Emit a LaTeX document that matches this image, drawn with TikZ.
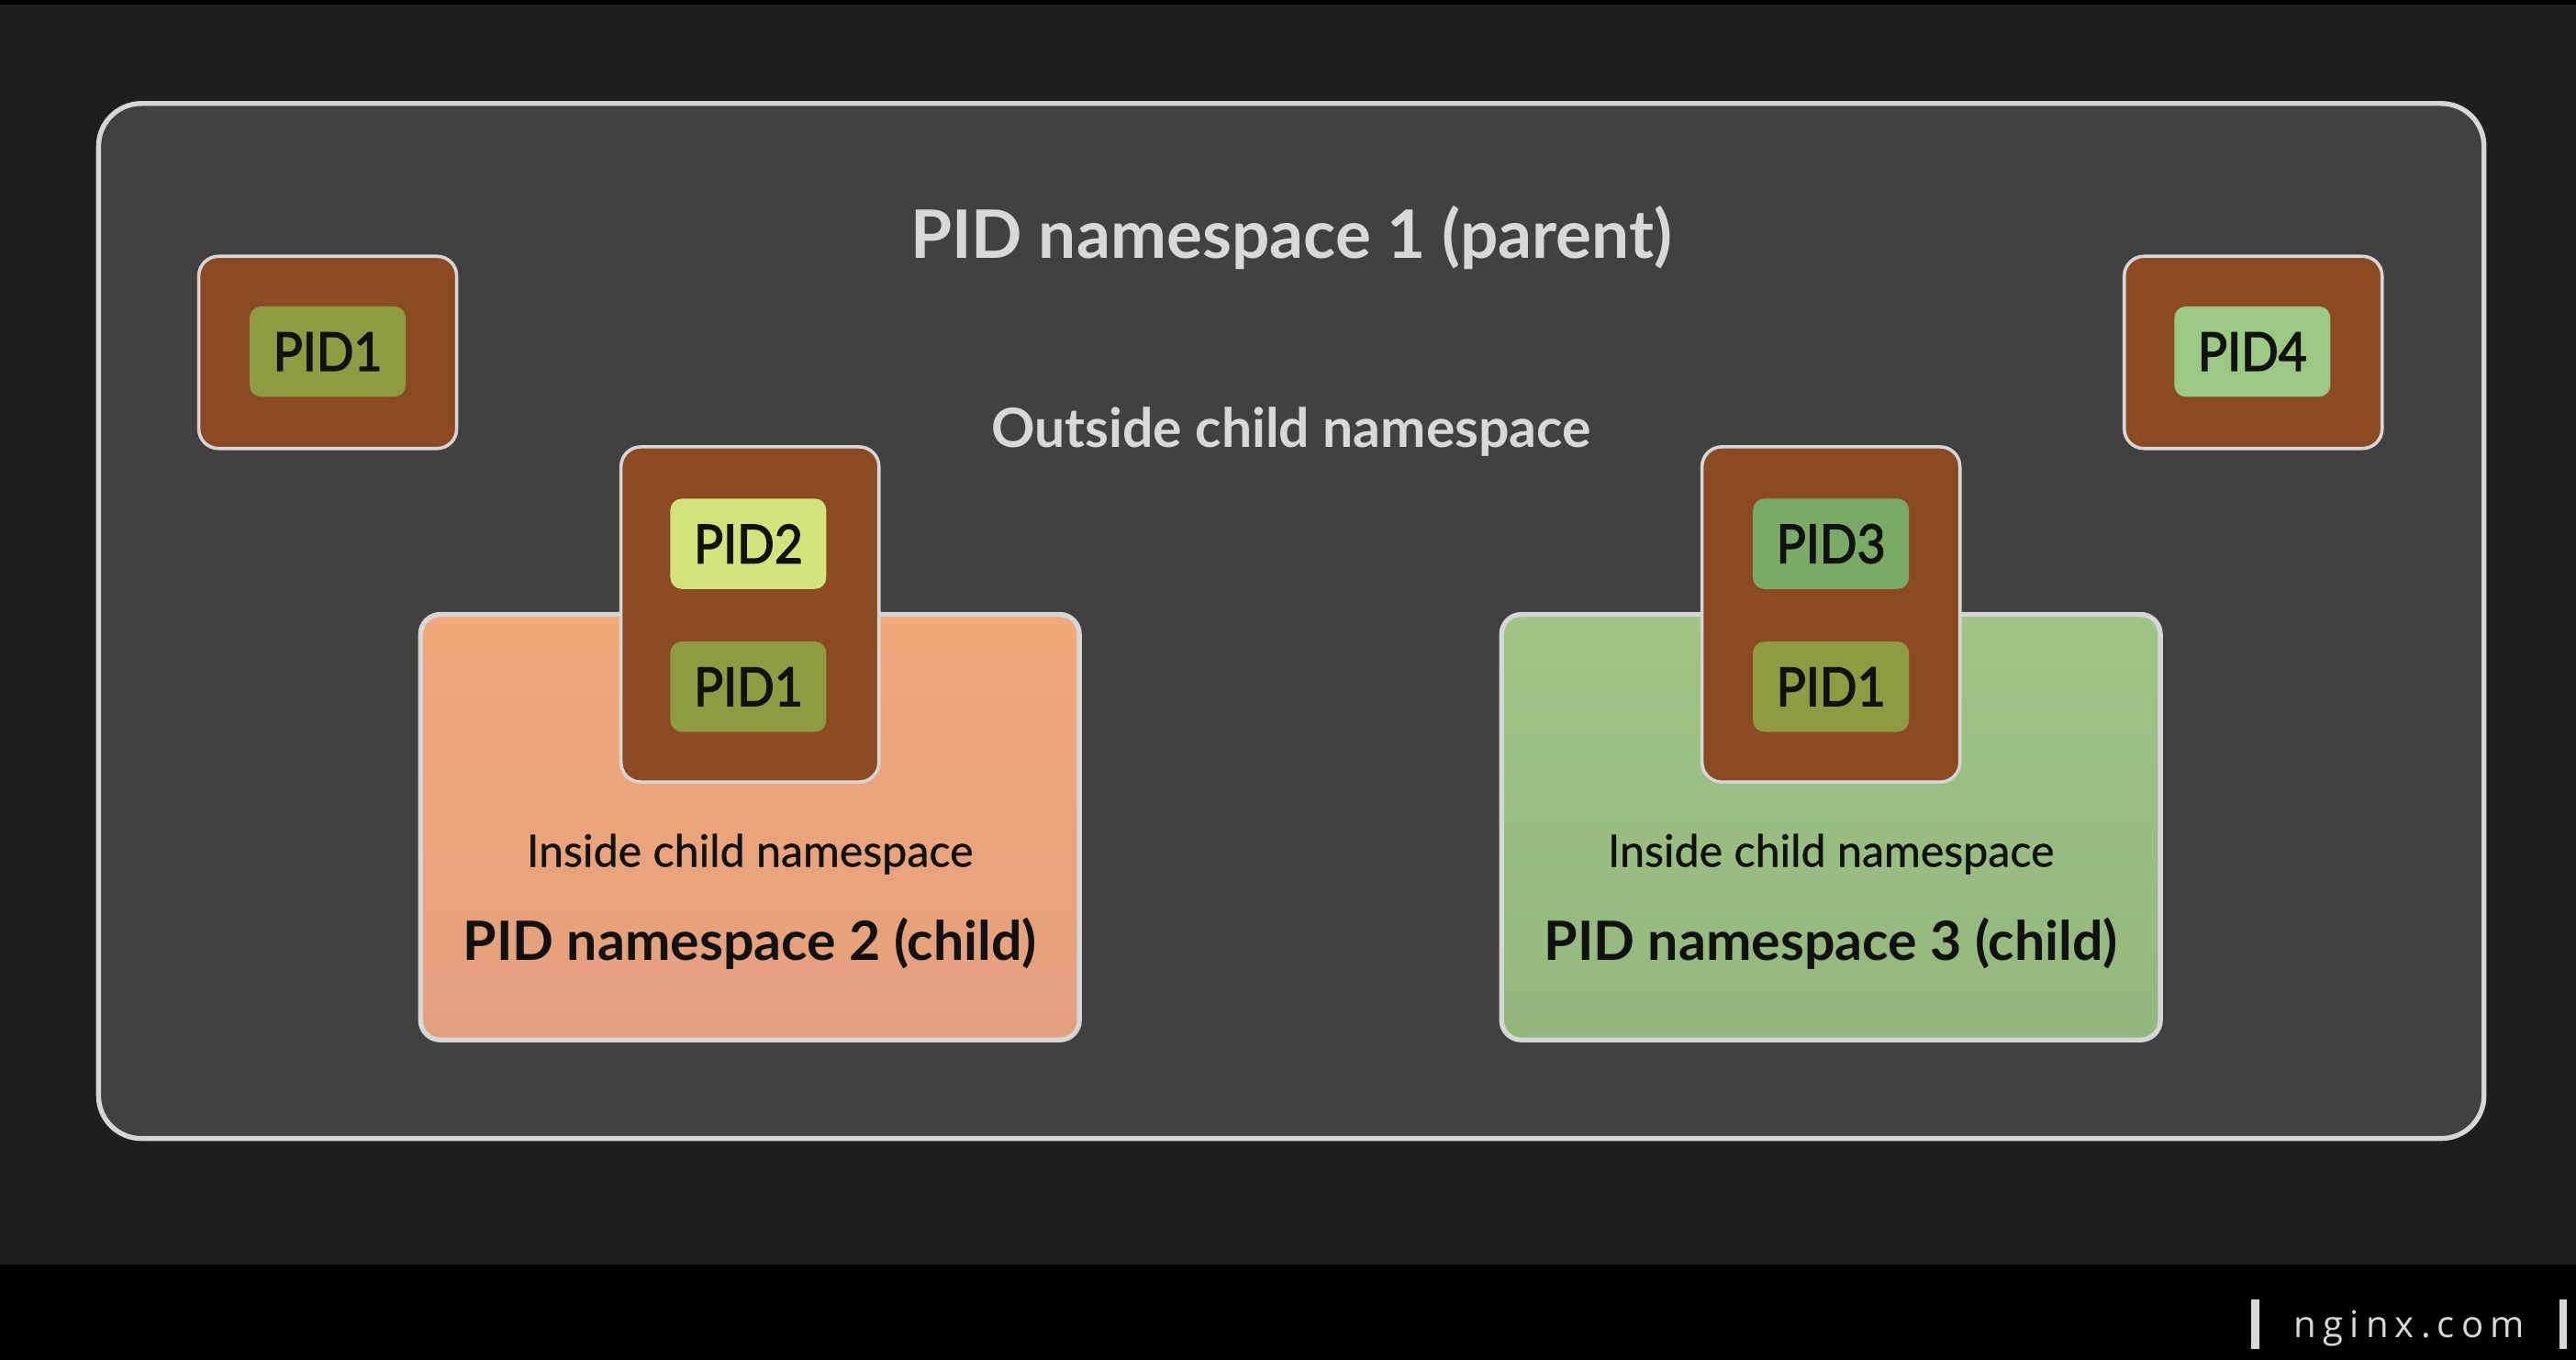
\documentclass[tikz,border=0pt]{standalone}
\usepackage{graphicx}
\usepackage{fontspec}
\setmainfont{Lato}
\newfontfamily\midfont[FakeBold=2.4]{Lato}
\newfontfamily\insfont[FakeBold=0.8]{Lato}
\newfontfamily\footfont[LetterSpace=18]{Open Sans}
\newcommand{\pidlabel}[1]{\scalebox{0.92}[1]{#1}}
\definecolor{bgdark}{HTML}{1E1E1E}
\definecolor{outerfill}{HTML}{414141}
\definecolor{edgegray}{HTML}{D6D6D6}
\definecolor{brownfill}{HTML}{8B4A22}
\definecolor{olive}{HTML}{8F9B41}
\definecolor{lime}{HTML}{D3E27B}
\definecolor{midgreen}{HTML}{7AAB65}
\definecolor{softgreen}{HTML}{9BC883}
\definecolor{orangetop}{HTML}{F3A87B}
\definecolor{orangebot}{HTML}{E2A07D}
\definecolor{greentop}{HTML}{9FC485}
\definecolor{greenbot}{HTML}{93B77E}
\definecolor{lighttext}{HTML}{D8D8D8}
\definecolor{darktext}{HTML}{111111}
\tikzset{
  outerbox/.style={draw=edgegray, line width=3pt, fill=outerfill, rounded corners=26pt,
    minimum width=1452pt, minimum height=630pt, inner sep=0pt},
  childbox/.style={draw=edgegray, line width=3pt, rounded corners=12pt,
    minimum width=401pt, minimum height=259pt, inner sep=0pt},
  brownbox/.style={draw=edgegray, line width=2pt, fill=brownfill, rounded corners=12pt,
    minimum width=157pt, inner sep=0pt},
  pidbox/.style={rounded corners=7pt, minimum width=95pt, minimum height=55pt, inner sep=0pt,
    text=darktext, font=\midfont\fontsize{32.5}{36}\selectfont},
  titletext/.style={text=lighttext, font=\bfseries\fontsize{40.7}{45}\selectfont, inner sep=0pt, anchor=base},
  outsidetext/.style={text=lighttext, font=\bfseries\fontsize{32.9}{37}\selectfont, inner sep=0pt, anchor=base},
  insidetext/.style={text=darktext, font=\insfont\fontsize{27}{31}\selectfont, inner sep=0pt, anchor=base},
  childtitle/.style={text=darktext, font=\bfseries\fontsize{33}{37}\selectfont, inner sep=0pt, anchor=base},
  foottext/.style={text=lighttext, font=\footfont\fontsize{22.4}{26}\selectfont, inner sep=0pt, anchor=base},
}
\begin{document}
\begin{tikzpicture}[x=1pt,y=-1pt]
\useasboundingbox (0,0) rectangle (1568,827.8);
\fill[black] (0,0) rectangle (1568,827.8);
\fill[bgdark] (0,3) rectangle (1568,770);
% outer namespace
\node[outerbox] (ns1) at (786,378) {};
\node[titletext] (t1) at (786,157) {PID namespace 1 (parent)};
\node[outsidetext] (out) at (786,272.5) {Outside child namespace};
% child namespaces
\node[childbox, top color=orangetop, bottom color=orangebot] (ns2) at (456.5,503.5) {};
\node[childbox, top color=greentop, bottom color=greenbot] (ns3) at (1114.5,503.5) {};
\node[insidetext] (in2) at (456.5,527.5) {Inside child namespace};
\node[childtitle] (t2) at (456.5,584.5) {PID namespace 2 (child)};
\node[insidetext] (in3) at (1114.5,527.5) {Inside child namespace};
\node[childtitle] (t3) at (1114.5,584.5) {PID namespace 3 (child)};
% process boxes
\node[brownbox, minimum height=117pt] (b1) at (199.5,214.5) {};
\node[pidbox, fill=olive] (p1) at (199.5,214) {\pidlabel{PID1}};
\node[brownbox, minimum height=117pt] (b4) at (1371.5,214.5) {};
\node[pidbox, fill=softgreen] (p4) at (1371,214) {\pidlabel{PID4}};
\node[brownbox, minimum height=204pt] (b2) at (456.5,374) {};
\node[pidbox, fill=lime] (p2) at (455.5,331) {\pidlabel{PID2}};
\node[pidbox, fill=olive] (p21) at (455.5,418) {\pidlabel{PID1}};
\node[brownbox, minimum height=204pt] (b3) at (1114.5,374) {};
\node[pidbox, fill=midgreen] (p3) at (1114.5,331) {\pidlabel{PID3}};
\node[pidbox, fill=olive] (p31) at (1114.5,418) {\pidlabel{PID1}};
% footer
\fill[lighttext] (1370.5,791) rectangle (1375,821);
\fill[lighttext] (1558,791) rectangle (1562.5,821);
\node[foottext] (foot) at (1466.5,814) {nginx.com};
\end{tikzpicture}
\end{document}
